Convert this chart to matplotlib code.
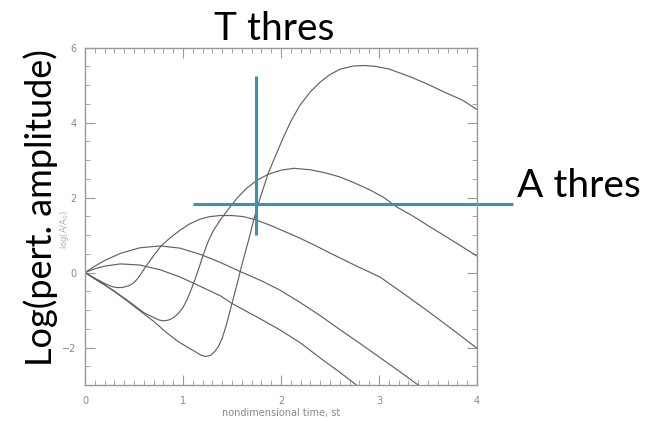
import numpy as np
import matplotlib
matplotlib.use("Agg")
import matplotlib.pyplot as plt
from matplotlib.ticker import MultipleLocator

# curves (x = nondimensional time, y = log amplitude)
xa = [0, 0.1, 0.2, 0.36, 0.56, 0.77, 0.97, 1.17, 1.38, 1.58, 1.8, 1.99, 2.19, 2.4, 2.6, 2.8, 3.0, 3.2, 3.4]
ya = [0, 0.17, 0.32, 0.51, 0.66, 0.71, 0.65, 0.49, 0.27, 0.03, -0.22, -0.47, -0.79, -1.15, -1.52, -1.88, -2.25, -2.62, -3.0]

xb = [0, 0.1, 0.2, 0.36, 0.56, 0.77, 0.97, 1.17, 1.38, 1.51, 1.75, 1.99, 2.2, 2.4, 2.6, 2.77]
yb = [0, 0.1, 0.17, 0.23, 0.2, 0.07, -0.12, -0.36, -0.62, -0.84, -1.18, -1.53, -1.88, -2.28, -2.66, -3.0]

xc = [0, 0.1, 0.2, 0.27, 0.32, 0.38, 0.45, 0.5, 0.55, 0.6, 0.68, 0.77, 0.87, 0.97, 1.07, 1.17, 1.27, 1.38, 1.5,
      1.62, 1.75, 1.9, 2.05, 2.19, 2.35, 2.5, 2.75, 3.01, 3.25, 3.52, 3.75, 4.0]
yc = [0, -0.15, -0.29, -0.37, -0.4, -0.4, -0.35, -0.27, -0.12, 0.08, 0.38, 0.69, 0.93, 1.13, 1.3, 1.42, 1.49, 1.52, 1.52,
      1.49, 1.4, 1.25, 1.08, 0.92, 0.72, 0.52, 0.2, -0.12, -0.56, -1.07, -1.52, -2.02]

xd = [0, 0.1, 0.2, 0.29, 0.4, 0.5, 0.6, 0.7, 0.76, 0.8, 0.85, 0.9, 0.95, 1.0, 1.04, 1.08, 1.12, 1.17, 1.21, 1.26,
      1.31, 1.38, 1.46, 1.55, 1.65, 1.76, 1.87, 2.0, 2.13, 2.3, 2.45, 2.6, 2.75, 2.91, 3.05, 3.18, 3.35, 3.52,
      3.75, 4.0]
yd = [0, -0.17, -0.33, -0.48, -0.68, -0.87, -1.07, -1.2, -1.27, -1.29, -1.27, -1.21, -1.1, -0.93, -0.73, -0.48,
      -0.2, 0.18, 0.5, 0.85, 1.12, 1.4, 1.68, 1.98, 2.25, 2.47, 2.62, 2.73, 2.78, 2.74, 2.66, 2.55, 2.39, 2.2,
      2.0, 1.75, 1.5, 1.22, 0.85, 0.44]

xe = [0, 0.1, 0.2, 0.29, 0.4, 0.5, 0.6, 0.7, 0.83, 0.95, 1.07, 1.13, 1.18, 1.23, 1.28, 1.32, 1.36, 1.4, 1.44,
      1.48, 1.51, 1.55, 1.6, 1.67, 1.73, 1.78, 1.87, 1.95, 2.02, 2.1, 2.19, 2.3, 2.4, 2.5, 2.6, 2.74, 2.85, 2.96,
      3.1, 3.32, 3.5, 3.66, 3.85, 4.0]
ye = [0, -0.17, -0.33, -0.49, -0.7, -0.9, -1.1, -1.3, -1.6, -1.84, -2.03, -2.12, -2.2, -2.24, -2.21, -2.12,
      -1.98, -1.75, -1.42, -1.02, -0.73, -0.33, 0.2, 0.87, 1.49, 1.93, 2.65, 3.15, 3.58, 4.03, 4.45, 4.82, 5.08,
      5.28, 5.42, 5.51, 5.52, 5.5, 5.43, 5.22, 5.02, 4.82, 4.6, 4.35]

# threshold markers
t_thres = 1.75
a_thres = 1.83

fig = plt.figure(figsize=(6.5, 4.21), dpi=100)
ax = fig.add_axes([0.1308, 0.0855, 0.603, 0.8015])

for xs, ys in [(xa, ya), (xb, yb), (xc, yc), (xd, yd), (xe, ye)]:
    ax.plot(xs, ys, color="#626262", lw=0.85, clip_on=True)

teal = "#3a93ab"
ax.plot([t_thres, t_thres], [1.0, 5.23], color=teal, lw=2.2, solid_capstyle="butt")
ax.plot([1.1, 4.37], [a_thres, a_thres], color=teal, lw=2.2, clip_on=False, solid_capstyle="butt")

ax.set_xlim(0, 4)
ax.set_ylim(-3, 6)
ax.set_xticks([0, 1, 2, 3, 4])
ax.set_yticks([-2, 0, 2, 4, 6])
ax.xaxis.set_minor_locator(MultipleLocator(0.1))
ax.yaxis.set_minor_locator(MultipleLocator(0.5))
ax.tick_params(which="both", direction="in", top=True, right=True, color="#999999",
               labelcolor="#8a8a8a", labelsize=7)
ax.tick_params(which="major", length=7)
ax.tick_params(which="minor", length=3.5)
ax.tick_params(axis="x", pad=8)
ax.tick_params(axis="y", pad=6)
for s in ax.spines.values():
    s.set_color("#999999")
    s.set_linewidth(1.0)

ax.set_xlabel("nondimensional time, st", color="#8a8a8a", fontsize=7, labelpad=1)

# faint original axis label, squeezed between the big label and the tick labels
fig.text(0.099, 0.455, "log(A/A$_0$)", rotation=90, color="#b0b0b0", fontsize=6,
         ha="center", va="center")

fig.text(0.4215, 0.905, "T thres", family="Lato", fontsize=28, ha="center", va="baseline")
fig.text(0.795, 0.533, "A thres", family="Lato", fontsize=28, ha="left", va="baseline")
fig.text(0.063, 0.508, "Log(pert. amplitude)", family="Lato", fontsize=26, rotation=90,
         ha="center", va="center")

fig.savefig("out.png", dpi=100)
